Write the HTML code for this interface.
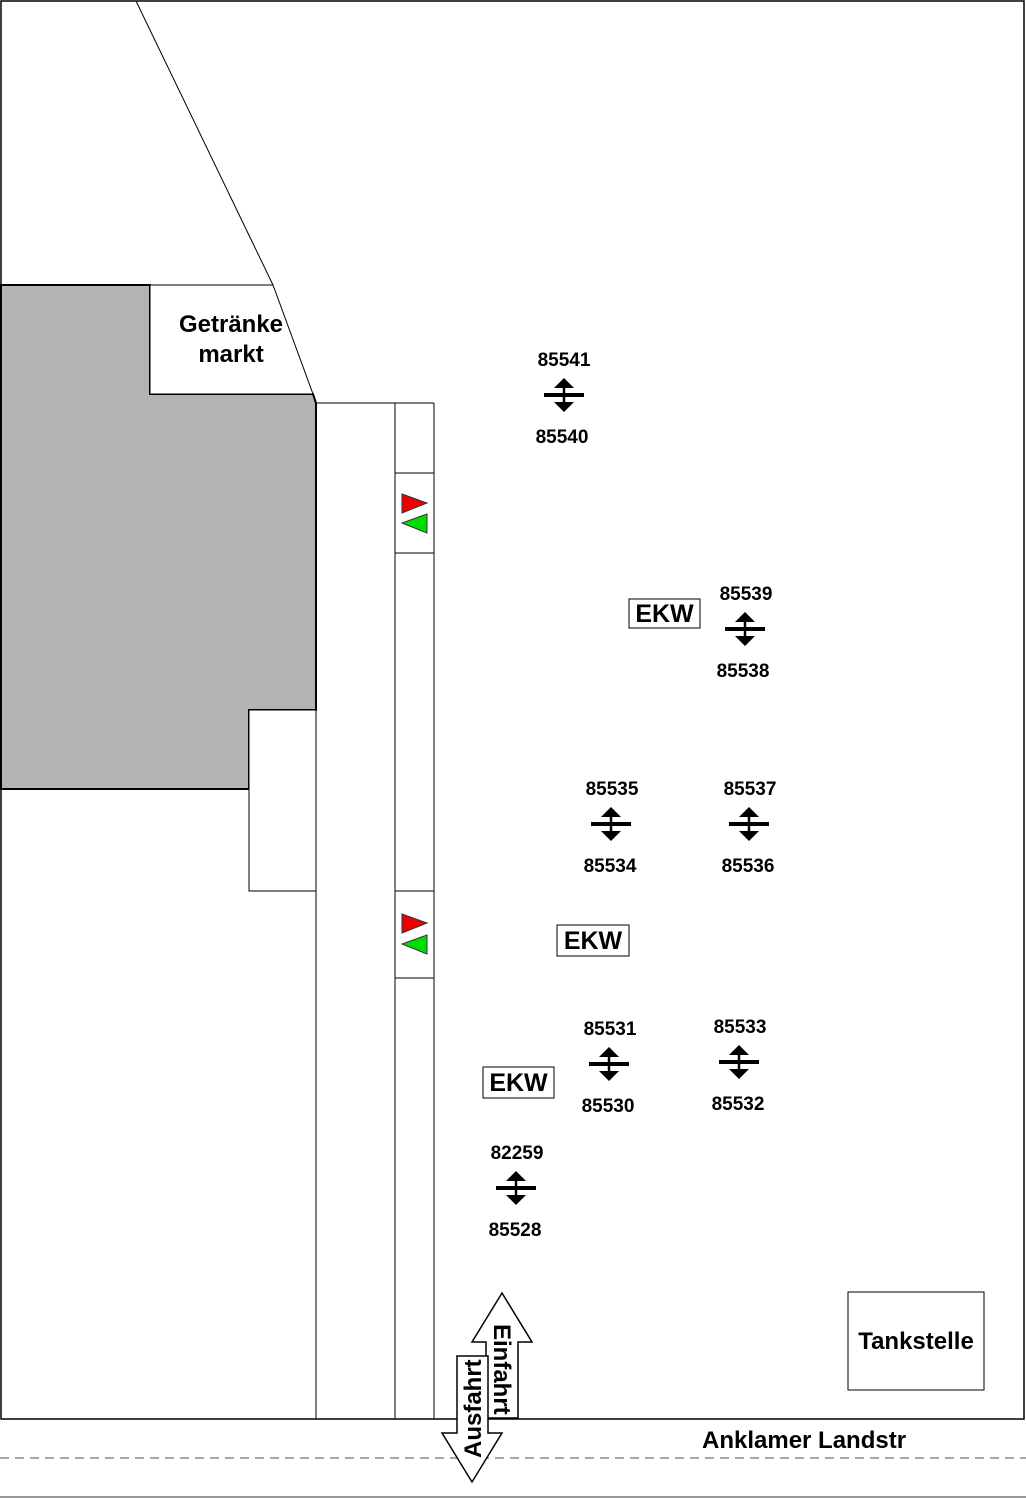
<!DOCTYPE html>
<html><head><meta charset="utf-8"><style>
html,body{margin:0;padding:0;background:#fff}
svg{display:block}
text{font-family:"Liberation Sans",Arial,sans-serif;font-weight:bold;fill:#000}
</style></head><body>
<svg width="1026" height="1499" viewBox="0 0 1026 1499" xmlns="http://www.w3.org/2000/svg">
<defs>
<g id="sym">
<line x1="-20" y1="0" x2="20" y2="0" stroke="#000" stroke-width="4"/>
<line x1="0" y1="-9" x2="0" y2="9" stroke="#000" stroke-width="2.5"/>
<polygon points="-10,-7 0,-17 10,-7" fill="#000"/>
<polygon points="-10,7 0,17 10,7" fill="#000"/>
</g>
</defs>
<rect x="1" y="1" width="1023" height="1418" fill="#fff" stroke="#000" stroke-width="1.5"/>
<polygon points="1,285 150,285 150,394 313,394 316,403 316,710 249,710 249,789 1,789" fill="#b3b3b3" stroke="#000" stroke-width="2"/>
<polygon points="150,285 273,285 313,394 150,394" fill="#fff" stroke="#000" stroke-width="1"/>
<line x1="136" y1="1" x2="273" y2="285" stroke="#000" stroke-width="1"/>
<line x1="1" y1="285" x2="150" y2="285" stroke="#000" stroke-width="1.5"/>
<text x="231" y="332" font-size="24" text-anchor="middle">Getränke</text>
<text x="231" y="362" font-size="24" text-anchor="middle">markt</text>
<rect x="249" y="710" width="67" height="181" fill="#fff" stroke="#000" stroke-width="1"/>
<line x1="316" y1="403" x2="434" y2="403" stroke="#000" stroke-width="1"/>
<line x1="316" y1="403" x2="316" y2="1419" stroke="#000" stroke-width="1"/>
<line x1="395" y1="403" x2="395" y2="1419" stroke="#000" stroke-width="1"/>
<line x1="434" y1="403" x2="434" y2="1419" stroke="#000" stroke-width="1"/>
<line x1="395" y1="473" x2="434" y2="473" stroke="#000" stroke-width="1"/>
<line x1="395" y1="553" x2="434" y2="553" stroke="#000" stroke-width="1"/>
<line x1="395" y1="891" x2="434" y2="891" stroke="#000" stroke-width="1"/>
<line x1="395" y1="978" x2="434" y2="978" stroke="#000" stroke-width="1"/>
<polygon points="402,494 427,503 402,513" fill="#e00" stroke="#333" stroke-width="1"/>
<polygon points="427,514 402,523 427,533" fill="#0d0" stroke="#333" stroke-width="1"/>
<polygon points="402,914 427,923 402,933" fill="#e00" stroke="#333" stroke-width="1"/>
<polygon points="427,935 402,944 427,954" fill="#0d0" stroke="#333" stroke-width="1"/>
<use href="#sym" x="564" y="395"/>
<text x="564" y="366" font-size="19" text-anchor="middle">85541</text>
<text x="562" y="443" font-size="19" text-anchor="middle">85540</text>
<use href="#sym" x="745" y="629"/>
<text x="746" y="600" font-size="19" text-anchor="middle">85539</text>
<text x="743" y="677" font-size="19" text-anchor="middle">85538</text>
<use href="#sym" x="611" y="824"/>
<text x="612" y="795" font-size="19" text-anchor="middle">85535</text>
<text x="610" y="872" font-size="19" text-anchor="middle">85534</text>
<use href="#sym" x="749" y="824"/>
<text x="750" y="795" font-size="19" text-anchor="middle">85537</text>
<text x="748" y="872" font-size="19" text-anchor="middle">85536</text>
<use href="#sym" x="609" y="1064"/>
<text x="610" y="1035" font-size="19" text-anchor="middle">85531</text>
<text x="608" y="1112" font-size="19" text-anchor="middle">85530</text>
<use href="#sym" x="739" y="1062"/>
<text x="740" y="1033" font-size="19" text-anchor="middle">85533</text>
<text x="738" y="1110" font-size="19" text-anchor="middle">85532</text>
<use href="#sym" x="516" y="1188"/>
<text x="517" y="1159" font-size="19" text-anchor="middle">82259</text>
<text x="515" y="1236" font-size="19" text-anchor="middle">85528</text>
<rect x="629" y="599" width="71" height="29" fill="#fff" stroke="#000" stroke-width="1"/>
<text x="664.5" y="622" font-size="25" text-anchor="middle">EKW</text>
<rect x="557" y="925" width="72" height="31" fill="#fff" stroke="#000" stroke-width="1"/>
<text x="593" y="949" font-size="25" text-anchor="middle">EKW</text>
<rect x="483" y="1067" width="71" height="31" fill="#fff" stroke="#000" stroke-width="1"/>
<text x="518.5" y="1091" font-size="25" text-anchor="middle">EKW</text>
<rect x="848" y="1292" width="136" height="98" fill="#fff" stroke="#000" stroke-width="1"/>
<text x="916" y="1349" font-size="24" text-anchor="middle">Tankstelle</text>
<line x1="0" y1="1458" x2="1026" y2="1458" stroke="#888" stroke-width="1.5" stroke-dasharray="9,6"/>
<line x1="0" y1="1497" x2="1026" y2="1497" stroke="#777" stroke-width="1.5"/>
<text x="702" y="1448" font-size="24">Anklamer Landstr</text>
<polygon points="502,1293 532,1342 518,1342 518,1418 486,1418 486,1342 472,1342" fill="#fff" stroke="#000" stroke-width="1.5"/>
<text font-size="24" transform="translate(494,1324) rotate(90)">Einfahrt</text>
<polygon points="457,1356 488,1356 488,1433 502,1433 472,1482 442,1433 457,1433" fill="#fff" stroke="#000" stroke-width="1.5"/>
<text font-size="24" transform="translate(481,1458) rotate(-90)">Ausfahrt</text>
</svg>
</body></html>
